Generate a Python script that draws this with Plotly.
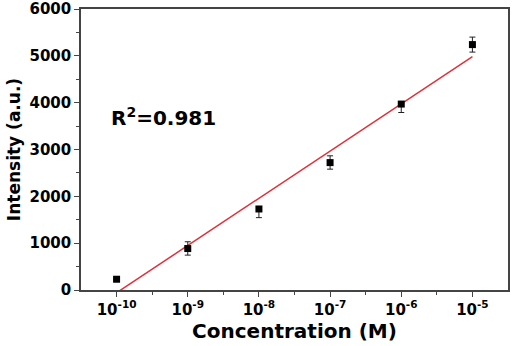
import numpy as np
import plotly.graph_objects as go

# Data
concentration = [1e-10, 1e-9, 1e-8, 1e-7, 1e-6, 1e-5]
intensity = [230, 885, 1730, 2720, 3970, 5240]
err_plus = [0, 145, 50, 145, 50, 160]
err_minus = [0, 140, 185, 140, 180, 160]
x_tick_vals = [1e-10, 1e-9, 1e-8, 1e-7, 1e-6, 1e-5]
x_tick_text = ["10<sup>-10</sup>", "10<sup>-9</sup>", "10<sup>-8</sup>",
               "10<sup>-7</sup>", "10<sup>-6</sup>", "10<sup>-5</sup>"]
x_minor_vals = [10 ** -9.5, 10 ** -8.5, 10 ** -7.5, 10 ** -6.5, 10 ** -5.5]
r2_text = "R<sup>2</sup>=0.981"

# Linear fit of intensity vs log10(concentration)
lx = np.log10(concentration)
b, a = np.polyfit(lx, intensity, 1)
fit_x = np.array(concentration)
fit_y = a + b * np.log10(fit_x)

FONT = "DejaVu Sans"

fig = go.Figure()
fig.add_trace(go.Scatter(
    x=fit_x, y=fit_y, mode="lines",
    line=dict(color="#e0303a", width=1.5),
    showlegend=False, hoverinfo="skip"))
fig.add_trace(go.Scatter(
    x=concentration, y=intensity, mode="markers",
    marker=dict(symbol="square", size=7, color="black"),
    error_y=dict(type="data", symmetric=False, array=err_plus,
                 arrayminus=err_minus, color="#222", thickness=1, width=3),
    showlegend=False))

fig.add_annotation(x=0.065, y=0.615, xref="paper", yref="paper",
                   text="<b>" + r2_text + "</b>", showarrow=False,
                   xanchor="left", yanchor="middle",
                   font=dict(family=FONT, size=20, color="black"))

axis_common = dict(showline=True, linecolor="#444", linewidth=1.5, mirror=True,
                   showgrid=False, zeroline=False, ticks="outside", ticklen=5,
                   tickwidth=1.2, tickcolor="#444", automargin=False,
                   tickfont=dict(family=FONT, size=15, color="black", weight="bold"))

fig.update_xaxes(type="log", range=[-10.5, -4.5], tickmode="array",
                 tickvals=x_tick_vals, ticktext=x_tick_text,
                 title=dict(text="Concentration (M)", standoff=1,
                            font=dict(family=FONT, size=20, color="black", weight="bold")),
                 minor=dict(tickmode="array", tickvals=x_minor_vals, ticks="outside",
                            ticklen=3, tickcolor="#444", tickwidth=1.2),
                 **axis_common)
fig.update_yaxes(range=[0, 6000], tickmode="linear", dtick=1000, tick0=0,
                 title=dict(text="Intensity (a.u.)", standoff=5,
                            font=dict(family=FONT, size=17, color="black", weight="bold")),
                 minor=dict(dtick=500, ticks="outside", ticklen=3,
                            tickcolor="#444", tickwidth=1.2),
                 **axis_common)

fig.update_layout(width=517, height=346,
                  margin=dict(l=81, r=9, t=9, b=56),
                  plot_bgcolor="white", paper_bgcolor="white",
                  font=dict(family=FONT, color="black"))

fig.write_html("out.html",
               config={"displayModeBar": False},
               post_script="document.body.style.margin='0';")
